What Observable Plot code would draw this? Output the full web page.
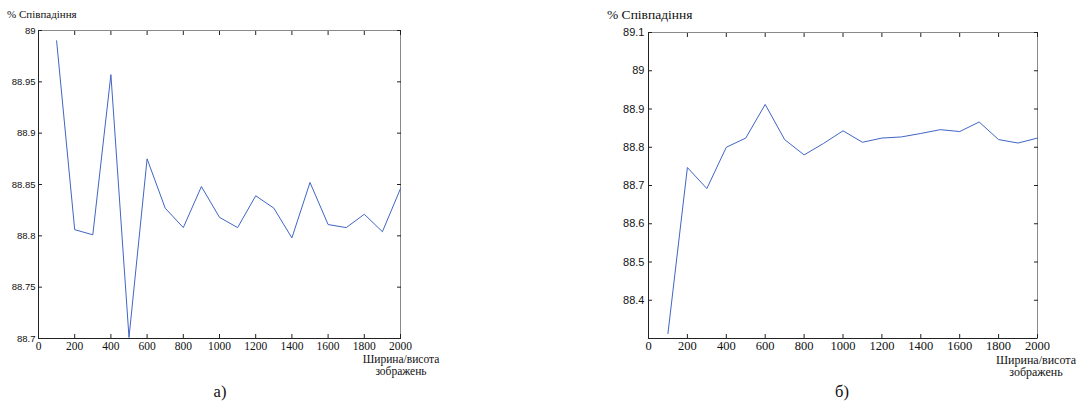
<!DOCTYPE html>
<html><head><meta charset="utf-8">
<script src="https://cdn.jsdelivr.net/npm/d3@7"></script>
<script src="https://cdn.jsdelivr.net/npm/@observablehq/plot@0.6"></script>
<style>
body{margin:0;background:#fff;}
#wrap{position:relative;width:1080px;height:405px;overflow:hidden;background:#fff;}
.panel{position:absolute;top:0;width:540px;height:405px;}
.panel svg{position:absolute;left:0;top:0;}
.t{position:absolute;font-family:"Liberation Serif","DejaVu Serif",serif;color:#111;white-space:nowrap;line-height:1;}
</style>
</head><body>
<div id="wrap">
  <div class="panel" id="pa" style="left:0"></div>
  <div class="panel" id="pb" style="left:540px"></div>
</div>
<script>
const xValues = [100,200,300,400,500,600,700,800,900,1000,1100,1200,1300,1400,1500,1600,1700,1800,1900,2000];
const seriesA = [88.990,88.806,88.801,88.957,88.701,88.875,88.827,88.808,88.848,88.818,88.808,88.839,88.827,88.798,88.852,88.811,88.808,88.821,88.804,88.846];
const seriesB = [88.313,88.747,88.692,88.800,88.824,88.912,88.820,88.780,88.810,88.843,88.813,88.824,88.827,88.836,88.846,88.841,88.866,88.820,88.811,88.824];
const xTicks = [0,200,400,600,800,1000,1200,1400,1600,1800,2000];
const yTicksA = [88.7,88.75,88.8,88.85,88.9,88.95,89];
const yTicksB = [88.4,88.5,88.6,88.7,88.8,88.9,89,89.1];
const yDomainA = [88.7, 89];
const yDomainB = [88.3, 89.1];
const yTitle = "% Співпадіння";
const xTitle1 = "Ширина/висота";
const xTitle2 = "зображень";
const captions = ["а)", "б)"];

const SERIF = "'Liberation Serif', 'DejaVu Serif', serif";
const SANS = "'Liberation Sans', Arial, sans-serif";
const fmt = d => String(+d.toFixed(2));

function chart(values, yDomain, yTicks, o) {
  const data = xValues.map((x, i) => ({x, y: values[i]}));
  return Plot.plot({
    width: 540, height: 405,
    marginLeft: o.ml, marginRight: o.mr, marginTop: o.mt, marginBottom: o.mb,
    style: {background: "transparent", overflow: "visible"},
    x: {domain: [0, 2000]},
    y: {domain: yDomain},
    marks: [
      Plot.frame({stroke: "#8a8a8a"}),
      Plot.ruleX([0], {stroke: "#222"}),
      Plot.ruleY([yDomain[0]], {stroke: "#222"}),
      Plot.axisY(yTicks, {anchor: "left", tickSize: 0, tickPadding: o.yPad, tickFormat: fmt, label: null,
        fontFamily: SANS, fontSize: o.yFont, fill: "#111"}),
      Plot.axisY(yTicks, {anchor: "left", tickSize: -4, tickFormat: () => "", label: null, stroke: "#222"}),
      Plot.axisY(yTicks, {anchor: "right", tickSize: -4, tickFormat: () => "", label: null, stroke: "#222"}),
      Plot.axisX(xTicks, {anchor: "bottom", tickSize: 0, tickPadding: 3, tickFormat: d => String(d), label: null,
        fontFamily: SERIF, fontSize: o.xFont, fill: "#111"}),
      Plot.axisX(xTicks, {anchor: "bottom", tickSize: -4, tickFormat: () => "", label: null, stroke: "#222"}),
      Plot.axisX(xTicks, {anchor: "top", tickSize: -4, tickFormat: () => "", label: null, stroke: "#222"}),
      Plot.line(data, {x: "x", y: "y", stroke: "#4065c4", strokeWidth: 1})
    ]
  });
}

function addText(panel, txt, left, top, size, center) {
  const d = document.createElement("div");
  d.className = "t";
  d.textContent = txt;
  d.style.fontSize = size + "px";
  d.style.top = top + "px";
  d.style.left = left + "px";
  if (center) d.style.transform = "translateX(-50%)";
  panel.appendChild(d);
}

const pa = document.getElementById("pa");
pa.appendChild(chart(seriesA, yDomainA, yTicksA, {ml: 38, mr: 140, mt: 30, mb: 67, yFont: 9.5, xFont: 11.5, yPad: 3}));
addText(pa, yTitle, 7, 9, 11);
addText(pa, xTitle1, 401, 354, 11.5, true);
addText(pa, xTitle2, 401, 366, 11.5, true);
addText(pa, captions[0], 220, 384, 16.5, true);

const pb = document.getElementById("pb");
pb.appendChild(chart(seriesB, yDomainB, yTicksB, {ml: 108, mr: 43, mt: 32, mb: 67, yFont: 11, xFont: 12.5, yPad: 4}));
addText(pb, yTitle, 67, 8, 13.5);
addText(pb, xTitle1, 496, 354, 12, true);
addText(pb, xTitle2, 496, 366, 12, true);
addText(pb, captions[1], 302, 384, 16.5, true);
</script>
</body></html>
